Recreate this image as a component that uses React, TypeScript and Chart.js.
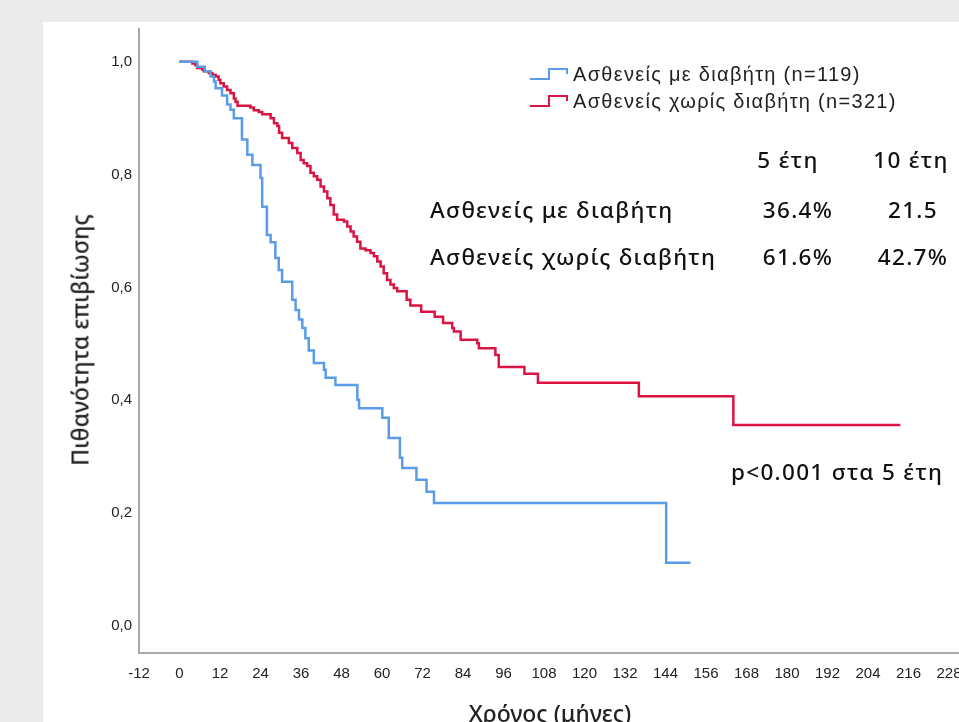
import React, { useEffect, useRef } from "react";
import { Chart, registerables } from "chart.js";
Chart.register(...registerables);

// ---- data ----
const xTickValues = [-12, 0, 12, 24, 36, 48, 60, 72, 84, 96, 108, 120, 132, 144, 156, 168, 180, 192, 204, 216, 228, 240];
const yTickValues = [0, 0.2, 0.4, 0.6, 0.8, 1.0];

const seriesLabels = ["Ασθενείς με διαβήτη (n=119)", "Ασθενείς χωρίς διαβήτη (n=321)"];

const diabetesTimes = [0, 5.3, 7.5, 9.2, 10.2, 10.7, 12.6, 14.1, 15.1, 16.1, 18.5, 20.1, 21.6, 24.0, 24.5, 25.9, 27.0, 28.4, 29.4, 30.4, 33.4, 34.4, 35.4, 36.4, 37.3, 38.3, 39.8, 42.8, 43.3, 46.2, 52.7, 53.2, 60.1, 62.0, 65.3, 66.0, 70.2, 73.2, 75.4, 144.2, 151.4];
const diabetesSurvival = [1.0, 0.991, 0.983, 0.974, 0.965, 0.953, 0.94, 0.924, 0.915, 0.9, 0.862, 0.835, 0.817, 0.794, 0.743, 0.693, 0.68, 0.652, 0.631, 0.61, 0.578, 0.56, 0.543, 0.528, 0.51, 0.488, 0.466, 0.454, 0.44, 0.427, 0.401, 0.386, 0.369, 0.333, 0.298, 0.28, 0.259, 0.238, 0.218, 0.112, 0.112];

const noDiabetesTimes = [0, 3.8, 4.7, 5.2, 6.7, 7.2, 8.7, 9.7, 10.7, 11.6, 12.1, 13.1, 14.1, 15.1, 16.1, 16.6, 17.2, 21.0, 22.0, 23.5, 24.5, 27.0, 28.0, 29.0, 29.5, 30.4, 32.4, 33.4, 34.9, 35.9, 36.8, 37.8, 38.8, 39.8, 40.8, 41.8, 42.8, 43.8, 44.7, 45.7, 46.7, 48.7, 49.7, 50.7, 51.6, 52.6, 53.6, 55.1, 56.6, 57.6, 58.6, 59.6, 60.5, 61.5, 62.5, 63.5, 64.5, 67.3, 68.4, 71.6, 75.6, 78.1, 80.8, 81.3, 83.3, 88.2, 88.7, 93.6, 94.6, 102.2, 106.2, 136.1, 164.1, 213.6];
const noDiabetesSurvival = [1.0, 0.997, 0.994, 0.989, 0.986, 0.983, 0.98, 0.977, 0.974, 0.968, 0.962, 0.956, 0.95, 0.944, 0.935, 0.929, 0.922, 0.919, 0.914, 0.911, 0.907, 0.9, 0.891, 0.886, 0.874, 0.865, 0.856, 0.847, 0.838, 0.826, 0.82, 0.815, 0.803, 0.797, 0.791, 0.779, 0.77, 0.758, 0.746, 0.729, 0.72, 0.717, 0.708, 0.699, 0.69, 0.681, 0.669, 0.666, 0.661, 0.655, 0.646, 0.637, 0.625, 0.613, 0.605, 0.599, 0.593, 0.578, 0.568, 0.557, 0.548, 0.537, 0.528, 0.522, 0.507, 0.501, 0.492, 0.48, 0.459, 0.447, 0.431, 0.407, 0.356, 0.356];

const tableHeaders = ["5 έτη", "10 έτη"];
const tableRowLabels = ["Ασθενείς με διαβήτη", "Ασθενείς χωρίς διαβήτη"];
const fiveYearValues = ["36.4%", "61.6%"];
const tenYearValues = ["21.5", "42.7%"];
const pValueText = "p<0.001 στα 5 έτη";
const xTitle = "Χρόνος (μήνες)";
const yTitle = "Πιθανότητα επιβίωσης";

// ---- styles ----
const BLUE = "#5b9ce6";
const RED = "#dc1443";
const AXIS = "#a8a8a8";
const TICK_FONT = { family: "'Liberation Sans', Arial, sans-serif", size: 15 };
const TABLE_FONT = "'Noto Sans', Roboto, sans-serif";

function Glyph({ color }: { color: string }) {
  return (
    <svg width={40} height={16} style={{ display: "block" }}>
      <polyline points="1,13 20,13 20,3 38,3 38,8" fill="none" stroke={color} strokeWidth={2} />
    </svg>
  );
}

export default function App() {
  const ref = useRef<HTMLCanvasElement>(null);

  useEffect(() => {
    const toPts = (t: number[], s: number[]) => t.map((x, i) => ({ x, y: s[i] }));
    const chart = new Chart(ref.current as HTMLCanvasElement, {
      type: "line",
      data: {
        datasets: [
          {
            label: seriesLabels[0],
            data: toPts(diabetesTimes, diabetesSurvival),
            borderColor: BLUE,
            borderWidth: 2.5,
            stepped: "before",
            pointRadius: 0,
            fill: false,
          },
          {
            label: seriesLabels[1],
            data: toPts(noDiabetesTimes, noDiabetesSurvival),
            borderColor: RED,
            borderWidth: 2.5,
            stepped: "before",
            pointRadius: 0,
            fill: false,
          },
        ],
      },
      options: {
        animation: false,
        responsive: false,
        maintainAspectRatio: false,
        layout: { padding: { top: 29, right: 50.5, bottom: 0, left: 0 } },
        plugins: { legend: { display: false }, tooltip: { enabled: false } },
        scales: {
          x: {
            type: "linear",
            min: -12,
            max: 240,
            afterBuildTicks: (s: any) => {
              s.ticks = xTickValues.map((v) => ({ value: v }));
            },
            afterFit: (s: any) => {
              s.height = 69;
            },
            grid: { display: false, drawTicks: false },
            border: { color: AXIS, width: 2 },
            ticks: {
              padding: 12,
              autoSkip: false,
              maxRotation: 0,
              color: "#222",
              font: TICK_FONT,
              callback: (v: any) => String(v),
            },
          },
          y: {
            type: "linear",
            min: -0.048,
            max: 1.058,
            afterBuildTicks: (s: any) => {
              s.ticks = yTickValues.map((v) => ({ value: v }));
            },
            afterFit: (s: any) => {
              s.width = 139;
            },
            grid: { display: false, drawTicks: false },
            border: { color: AXIS, width: 2 },
            ticks: {
              padding: 7,
              color: "#222",
              font: TICK_FONT,
              callback: (v: any) => Number(v).toFixed(1).replace(".", ","),
            },
          },
        },
      },
    });
    return () => chart.destroy();
  }, []);

  const abs = (left: number, top: number, extra: React.CSSProperties = {}): React.CSSProperties => ({
    position: "absolute",
    left,
    top,
    whiteSpace: "nowrap",
    lineHeight: 1,
    ...extra,
  });

  const tableText: React.CSSProperties = {
    fontFamily: TABLE_FONT,
    fontSize: 22.5,
    fontWeight: 500,
    letterSpacing: 1.3,
    color: "#111",
  };

  const titleText: React.CSSProperties = {
    fontFamily: "'Noto Sans', Roboto, sans-serif",
    fontWeight: 500,
    fontSize: 23,
    color: "#222",
  };

  return (
    <div style={{ position: "fixed", left: 0, top: 0, width: 959, height: 722, overflow: "hidden", background: "#ebebeb" }}>
      <div style={{ position: "absolute", left: 43, top: 22, width: 1100, height: 800, background: "#fff" }} />
      <canvas ref={ref} width={1040} height={722} style={{ position: "absolute", left: 0, top: 0, width: 1040, height: 722 }} />

      {/* legend */}
      {seriesLabels.map((lab, i) => (
        <div key={lab} style={abs(529, 64 + i * 27, { display: "flex", alignItems: "center", fontFamily: "'Liberation Sans', Arial, sans-serif", fontSize: 20, letterSpacing: 1.3, color: "#222" })}>
          <Glyph color={i === 0 ? BLUE : RED} />
          <span style={{ marginLeft: 4 }}>{lab}</span>
        </div>
      ))}

      {/* table */}
      <div style={abs(788, 160, { ...tableText, transform: "translate(-50%,-50%)" })}>{tableHeaders[0]}</div>
      <div style={abs(911, 160, { ...tableText, transform: "translate(-50%,-50%)" })}>{tableHeaders[1]}</div>
      {tableRowLabels.map((lab, i) => (
        <React.Fragment key={lab}>
          <div style={abs(430, 210 + i * 47, { ...tableText, transform: "translateY(-50%)" })}>{lab}</div>
          <div style={abs(798, 210 + i * 47, { ...tableText, transform: "translate(-50%,-50%)" })}>{fiveYearValues[i]}</div>
          <div style={abs(913, 210 + i * 47, { ...tableText, transform: "translate(-50%,-50%)" })}>{tenYearValues[i]}</div>
        </React.Fragment>
      ))}
      <div style={abs(731, 472, { ...tableText, transform: "translateY(-50%)" })}>{pValueText}</div>

      {/* axis titles */}
      <div style={abs(80, 340, { ...titleText, transform: "translate(-50%,-50%) rotate(-90deg)" })}>{yTitle}</div>
      <div style={abs(550, 713, { ...titleText, transform: "translate(-50%,-50%)" })}>{xTitle}</div>
    </div>
  );
}
